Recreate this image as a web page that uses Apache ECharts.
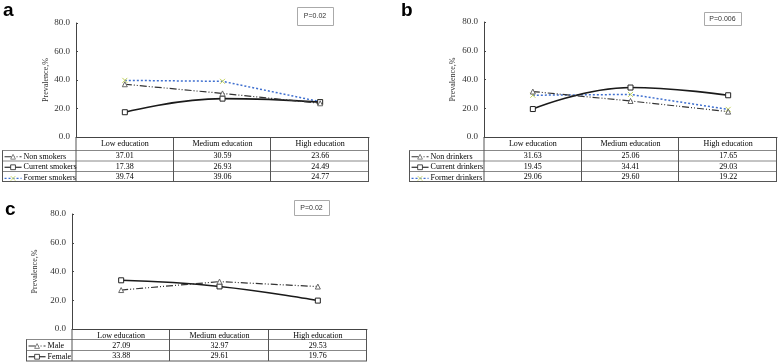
<!DOCTYPE html>
<html>
<head>
<meta charset="utf-8">
<script src="https://cdn.jsdelivr.net/npm/echarts@6/dist/echarts.min.js"></script>
<style>
  html, body { margin: 0; padding: 0; background: #fff; }
  #chart { width: 778px; height: 363px; }
</style>
</head>
<body>
<div id="chart"></div>
<script>
// data
const categories = ['Low education', 'Medium education', 'High education'];
const yTicks = [0, 20, 40, 60, 80];

const nonSmokers = [37.01, 30.59, 23.66];
const currentSmokers = [17.38, 26.93, 24.49];
const formerSmokers = [39.74, 39.06, 24.77];

const nonDrinkers = [31.63, 25.06, 17.65];
const currentDrinkers = [19.45, 34.41, 29.03];
const formerDrinkers = [29.06, 29.60, 19.22];

const male = [27.09, 32.97, 29.53];
const female = [33.88, 29.61, 19.76];

const pValues = ['P=0.02', 'P=0.006', 'P=0.02'];
const panelLetters = ['a', 'b', 'c'];

// line looks
const dashDot = {
  lineStyle: { color: '#333', width: 1.2, type: [7, 2, 1, 2, 1, 2] },
  symbol: 'triangle', symbolSize: 5,
  itemStyle: { color: '#fff', borderColor: '#666', borderWidth: 1 }
};
const solid = {
  smooth: 0.45,
  lineStyle: { color: '#1a1a1a', width: 1.6, type: 'solid' },
  symbol: 'rect', symbolSize: 5,
  itemStyle: { color: '#fff', borderColor: '#222', borderWidth: 1 }
};
const dotted = {
  lineStyle: { color: '#3f6fcf', width: 1.5, type: [2, 2] },
  symbol: 'path://M0,0L10,10M10,0L0,10', symbolSize: 5,
  itemStyle: { color: 'none', borderColor: '#c4d35a', borderWidth: 1 }
};

const panels = [
  {
    grid: { left: 76, top: 23, width: 293, height: 114 },
    tableLeft: 2, rows: [137.5, 150.5, 161, 171.5, 181.5],
    nameGap: 26, pBox: [297, 7, 36, 18], letter: [3, 1],
    series: [
      ['Non smokers', nonSmokers, dashDot],
      ['Current smokers', currentSmokers, solid],
      ['Former smokers', formerSmokers, dotted]
    ]
  },
  {
    grid: { left: 484, top: 22, width: 293, height: 115 },
    tableLeft: 409, rows: [137.5, 150.5, 161, 171.5, 181.5],
    nameGap: 27, pBox: [704, 12, 37, 13], letter: [401, 1],
    series: [
      ['Non drinkers', nonDrinkers, dashDot],
      ['Current drinkers', currentDrinkers, solid],
      ['Former drinkers', formerDrinkers, dotted]
    ]
  },
  {
    grid: { left: 72, top: 214, width: 295, height: 115 },
    tableLeft: 26, rows: [329.5, 339.5, 350.5, 361],
    nameGap: 33, pBox: [294, 200, 35, 15], letter: [5, 200],
    series: [
      ['Male', male, dashDot],
      ['Female', female, solid]
    ]
  }
];

const serif = '"Liberation Serif", "Times New Roman", serif';
const chart = echarts.init(document.getElementById('chart'));

const grid = [], xAxis = [], yAxis = [], series = [], legend = [];
panels.forEach((p, i) => {
  grid.push(Object.assign({ containLabel: false }, p.grid));
  xAxis.push({
    type: 'category', gridIndex: i, data: categories,
    axisLine: { lineStyle: { color: '#444', width: 1 } },
    axisTick: { show: false },
    axisLabel: { margin: 3, fontSize: 8, fontFamily: serif, color: '#000' }
  });
  yAxis.push({
    type: 'value', gridIndex: i, min: yTicks[0], max: yTicks[yTicks.length - 1], interval: 20,
    name: 'Prevalence,%', nameLocation: 'middle', nameRotate: 90, nameGap: p.nameGap,
    nameTextStyle: { fontSize: 8, fontFamily: serif, color: '#333' },
    axisLine: { show: true, lineStyle: { color: '#444', width: 1 } },
    axisTick: { show: true, inside: true, length: 2, lineStyle: { color: '#444' } },
    axisLabel: { fontSize: 9, fontFamily: serif, color: '#333', margin: 6,
      formatter: v => v.toFixed(1) },
    splitLine: { show: false }
  });
  p.series.forEach((s, k) => {
    series.push(Object.assign({
      name: s[0], type: 'line', xAxisIndex: i, yAxisIndex: i, data: s[1],
      z: 3 - k
    }, s[2]));
    // one legend per table row, sitting in the first column
    const top = p.rows[k + 1];
    const bottom = p.rows[k + 2];
    legend.push({
      data: [s[0]], orient: 'vertical', left: p.tableLeft + 2,
      top: (top + bottom) / 2 - 3, padding: 0,
      itemWidth: 17, itemHeight: 6, itemGap: 0, selectedMode: false,
      lineStyle: { width: 1.1 },
      itemStyle: { borderWidth: 0.8 },
      textStyle: { fontSize: 8, fontFamily: serif, color: '#000', padding: [0, 0, 0, -3] }
    });
  });
});

chart.setOption({
  animation: false,
  backgroundColor: '#fff',
  grid, xAxis, yAxis, series, legend
});

// table, p-value boxes and panel letters
const graphic = [];
const lineStyle = { stroke: '#555', lineWidth: 1 };
panels.forEach((p, i) => {
  const right = p.grid.left + p.grid.width;
  const rows = p.rows;
  const headTop = rows[0], headBot = rows[1], tBot = rows[rows.length - 1];
  const colEdges = [0, 1, 2].map(k => {
    const c = chart.convertToPixel({ gridIndex: i }, [k, 0])[0];
    return c + p.grid.width / 6;
  });
  // horizontal lines
  graphic.push({ type: 'line', shape: { x1: p.grid.left, y1: headTop, x2: right, y2: headTop }, style: lineStyle });
  for (let r = 1; r < rows.length; r++) {
    graphic.push({ type: 'line', shape: { x1: p.tableLeft, y1: rows[r], x2: right, y2: rows[r] },
      style: r === rows.length - 1 ? lineStyle : { stroke: '#888', lineWidth: 1 } });
  }
  // vertical lines
  graphic.push({ type: 'line', shape: { x1: p.tableLeft + 0.5, y1: headBot, x2: p.tableLeft + 0.5, y2: tBot }, style: lineStyle });
  graphic.push({ type: 'line', shape: { x1: p.grid.left, y1: headTop, x2: p.grid.left, y2: tBot }, style: lineStyle });
  colEdges.forEach(x => {
    const xx = Math.round(x) - 0.5;
    graphic.push({ type: 'line', shape: { x1: xx, y1: headTop, x2: xx, y2: tBot }, style: lineStyle });
  });
  // values in cells
  p.series.forEach((s, k) => {
    const cy = (rows[k + 1] + rows[k + 2]) / 2;
    s[1].forEach((v, j) => {
      const cx = chart.convertToPixel({ gridIndex: i }, [j, v])[0];
      graphic.push({
        type: 'text', x: cx, y: cy + 0.5,
        style: { text: v.toFixed(2), fontSize: 8, fontFamily: serif, fill: '#000',
          align: 'center', verticalAlign: 'middle' }
      });
    });
  });
  // p-value box
  const b = p.pBox;
  graphic.push({ type: 'rect', shape: { x: b[0] + 0.5, y: b[1] + 0.5, width: b[2], height: b[3] },
    style: { fill: '#fff', stroke: '#aaa', lineWidth: 1 } });
  graphic.push({ type: 'text', x: b[0] + b[2] / 2, y: b[1] + b[3] / 2 + 0.5,
    style: { text: pValues[i], fontSize: 7, fontFamily: '"Liberation Sans", Arial, sans-serif',
      fill: '#333', align: 'center', verticalAlign: 'middle' } });
  // panel letter
  graphic.push({ type: 'text', x: p.letter[0], y: p.letter[1],
    style: { text: panelLetters[i], fontSize: 19, fontWeight: 'bold',
      fontFamily: '"Liberation Sans", Arial, sans-serif', fill: '#000' } });
});

chart.setOption({ graphic });
</script>
</body>
</html>
